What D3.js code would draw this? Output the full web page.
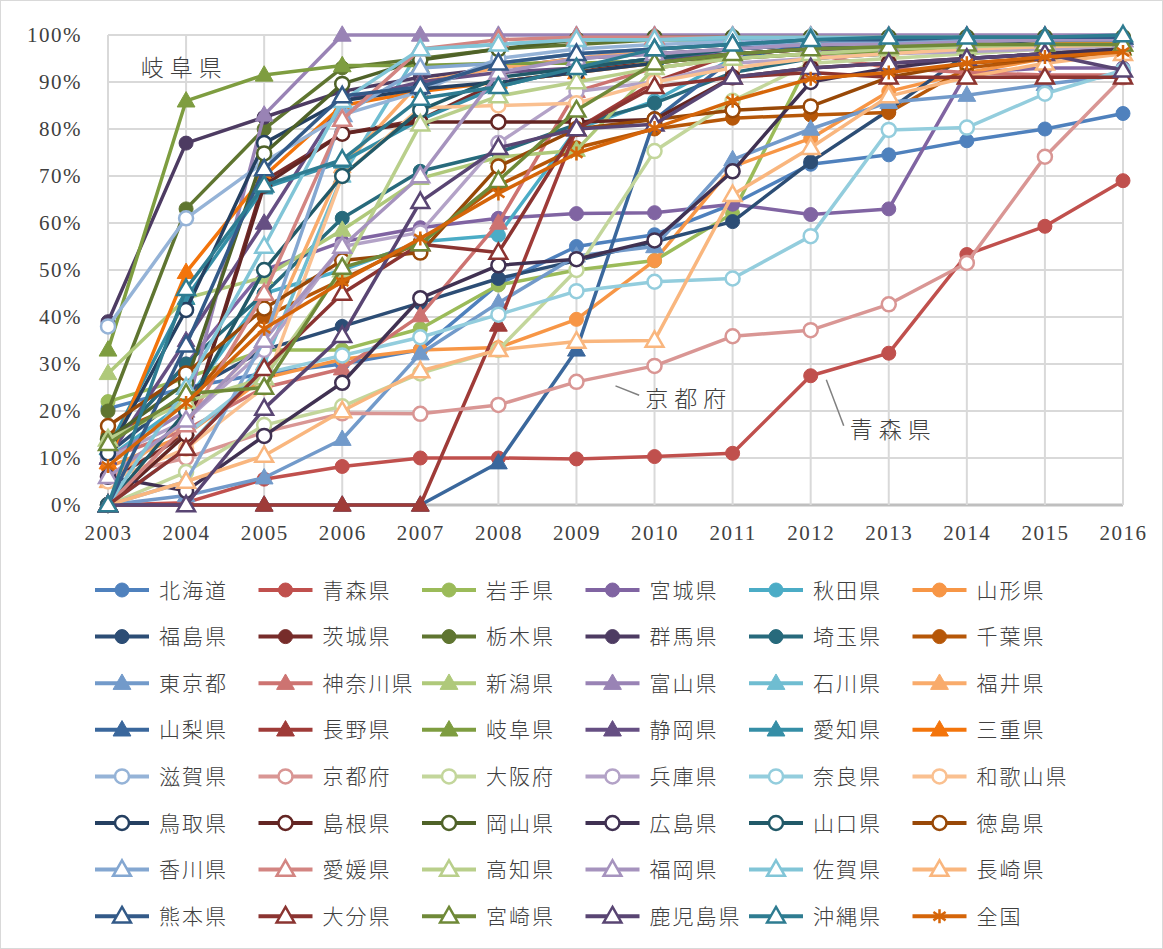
<!DOCTYPE html>
<html>
<head>
<meta charset="utf-8">
<script src="https://cdn.jsdelivr.net/npm/d3@7"></script>
<style>
  body { margin: 0; background: #fff; }
  svg { display: block; }
  .tick-label { font-family: "Liberation Serif", "DejaVu Serif", serif; font-size: 21px; letter-spacing: 1.5px; fill: #404040; }
  .legend-label, .note { font-family: "Noto Sans CJK JP", sans-serif; font-weight: 300; fill: #404040; }
</style>
</head>
<body>
<div id="chart"></div>
<script>
// years on the x axis
var years = [2003, 2004, 2005, 2006, 2007, 2008, 2009, 2010, 2011, 2012, 2013, 2014, 2015, 2016];
var yTicks = [0, 10, 20, 30, 40, 50, 60, 70, 80, 90, 100];

var prefectures = [
  "北海道", "青森県", "岩手県", "宮城県", "秋田県", "山形県",
  "福島県", "茨城県", "栃木県", "群馬県", "埼玉県", "千葉県",
  "東京都", "神奈川県", "新潟県", "富山県", "石川県", "福井県",
  "山梨県", "長野県", "岐阜県", "静岡県", "愛知県", "三重県",
  "滋賀県", "京都府", "大阪府", "兵庫県", "奈良県", "和歌山県",
  "鳥取県", "島根県", "岡山県", "広島県", "山口県", "徳島県",
  "香川県", "愛媛県", "高知県", "福岡県", "佐賀県", "長崎県",
  "熊本県", "大分県", "宮崎県", "鹿児島県", "沖縄県", "全国"
];

// percent per year, one row per prefecture (same order as above)
var rates = [
  [20.5, 25, 28, 30, 33, 47, 55, 57.5, 64, 72.5, 74.5, 77.5, 80, 83.3],
  [0, 0.5, 5.5, 8.2, 10, 10, 9.8, 10.3, 11, 27.5, 32.3, 53.3, 59.3, 69],
  [22, 27, 33, 33, 37.5, 46.8, 50, 52, 62, 95, 96, 97, 98, 98.5],
  [12, 30, 50, 56, 59, 61, 62, 62.2, 64, 61.8, 63, 92, 93, 93],
  [10, 22, 45, 50, 56, 57.4, 80, 86, 95, 98, 99, 99, 99.5, 99.5],
  [8, 15, 27, 31, 33, 33.5, 39.5, 52, 72, 78, 88, 92, 95, 97],
  [11, 24, 33, 38, 43, 48.2, 52, 56, 60.3, 73, 84, 96, 98, 99],
  [5, 15, 69, 79, 82, 90, 92, 95, 97, 98, 98, 99, 99, 99],
  [20, 63, 80, 93, 95, 97, 98, 99, 99, 99, 99.5, 99.5, 99.5, 99.5],
  [39, 77, 82.5, 88, 91, 93, 95, 96, 97, 98, 98, 98.5, 99, 99],
  [12, 30, 45, 61, 71, 75, 81, 85.5, 92, 95, 96, 97, 98, 99],
  [15, 22, 40, 48, 56, 68, 76, 80, 82.3, 83, 83.5, 93, 95, 97],
  [0, 2, 5.8, 14, 32.2, 43, 53, 55, 73.5, 80, 85.7, 87.2, 89.5, 91.5],
  [10, 16, 25, 29, 40.3, 60, 88, 93, 95, 96, 93, 92, 91.5, 91.5],
  [28, 44, 48.5, 58.5, 69.5, 74, 75.5, 93, 95, 96, 97, 98, 98, 98.5],
  [10, 20, 83, 100, 100, 100, 100, 100, 100, 100, 100, 100, 100, 100],
  [0, 12, 30, 70, 97, 98, 99, 99, 99, 99, 99.5, 99.5, 99.5, 99.5],
  [5, 18, 35, 72, 90, 93, 95, 97, 98, 99, 99, 99, 99, 99],
  [0, 0, 0, 0, 0, 9, 33, 82, 95, 98, 99, 99, 99.5, 99.5],
  [0, 0, 0, 0, 0, 38.3, 80, 90, 96, 97, 97, 97.5, 98, 98],
  [33, 86, 91.5, 93.5, 93.5, 94, 94, 94.5, 95, 96, 96.5, 97, 97, 97],
  [10, 35, 60, 86, 90, 92, 93, 95, 96, 97, 97, 98, 98, 98],
  [12, 44, 67.5, 73, 82, 89, 93, 95, 97, 98, 99, 99, 99.5, 99.5],
  [9, 49.5, 70, 85, 88, 90, 92, 94, 96, 97, 98, 98, 98, 98.5],
  [38, 61, 73, 83, 88, 95, 97, 98, 98.5, 99, 99, 99, 99, 99],
  [6, 10, 15.5, 19.5, 19.4, 21.3, 26.2, 29.6, 35.9, 37.2, 42.7, 51.5, 74.1, 91],
  [0, 7, 17, 21, 28, 33, 50, 75.3, 86, 94, 95, 96, 97, 97.5],
  [10, 18, 33, 55, 58, 77, 88, 90, 94, 95, 96, 96.5, 97, 97],
  [0, 15, 28, 31.8, 35.7, 40.5, 45.5, 47.5, 48.2, 57.2, 79.8, 80.3, 87.5, 92.5],
  [5, 12, 25, 70, 84.5, 85, 85.5, 90, 93, 95, 96, 97, 97.5, 98],
  [11, 41.5, 77, 86, 88.5, 90, 92, 94, 96, 97, 98, 98, 99, 99],
  [0, 15, 68, 79, 81.5, 81.5, 81.5, 82, 91, 93, 94, 95, 96, 97],
  [14, 26, 74.8, 89.6, 94.7, 97, 99, 99.5, 99.5, 99.5, 99.5, 99.5, 99.5, 99.5],
  [6, 3, 14.7, 26, 44, 51, 52.3, 56.3, 71, 90, 93, 95, 96, 97],
  [0, 20, 50, 70, 84, 91, 93, 95, 97, 98, 98, 98.5, 99, 99],
  [16.8, 28, 41.8, 52, 53.7, 72, 80, 82, 84, 84.8, 91, 94, 95, 96],
  [0, 5, 35, 83, 93, 94, 96, 97, 98, 98, 98.5, 99, 99, 99],
  [0, 17, 45, 82, 97, 99, 99.5, 99.5, 99.5, 99.5, 99.5, 99.5, 99.5, 99.5],
  [14, 22, 27, 50, 81, 87, 90, 93, 95, 96, 97, 97.5, 98, 98],
  [6, 18, 35, 55, 70, 92, 95, 96, 97, 98, 98, 98.5, 99, 99],
  [0, 25, 55, 86, 97, 98, 99, 99, 99.5, 99.5, 99.5, 99.5, 99.5, 99.5],
  [0, 5, 10.5, 20, 28.5, 33, 34.8, 35, 66, 76, 87, 91, 94, 96],
  [0, 34, 71.5, 87, 89, 94, 96, 97, 98, 99, 99, 99.5, 99.5, 99.5],
  [0, 12, 29, 45, 55.5, 53.7, 80, 89, 91, 92, 91, 91, 91, 91],
  [13, 23.7, 25, 50.5, 55.5, 69, 84, 94, 96, 97, 97.5, 98, 98, 98],
  [0, 0, 20.5, 36, 64.5, 76, 80, 81, 91, 93, 94, 95, 96, 92.5],
  [0, 46, 68, 73.5, 86.5, 89, 93, 97, 98, 99, 99.5, 99.5, 99.5, 100],
  [8.3, 21.7, 37.5, 47.5, 56.7, 66.3, 74.8, 80.2, 86, 90.7, 92, 94, 95.3, 96.4]
];

// labels written on the plot
var notes = [
  { text: "岐阜県", year: 2003.42, value: 93 },
  { text: "京都府", year: 2009.88, value: 22.5, from: [2009.5, 26.2] },
  { text: "青森県", year: 2012.5, value: 16, from: [2012.2, 27.5] }
];

var accents = ["#4F81BD", "#C0504D", "#9BBB59", "#8064A2", "#4BACC6", "#F79646"];
// Excel style luminance variations for series 7+
var shades = [[1, 0], [0.6, 0], [0.8, 0.2], [0.8, 0], [0.6, 0.4], [0.5, 0], [0.7, 0.3], [0.7, 0]];

function seriesColor(i) {
  var c = d3.hsl(accents[i % 6]);
  var s = shades[Math.floor(i / 6)];
  c.l = c.l * s[0] + s[1];
  return c.formatHex();
}

function markerType(i) {
  if (i == 47) return "star";
  var g = Math.floor(i / 6);
  return ["circle", "circle", "triangle", "triangle", "ocircle", "ocircle", "otriangle", "otriangle"][g];
}

var width = 1163, height = 949;
var svg = d3.select("#chart").append("svg")
  .attr("width", width)
  .attr("height", height);

svg.append("rect")
  .attr("x", 0.5).attr("y", 0.5)
  .attr("width", width - 1).attr("height", height - 1)
  .attr("fill", "#fff").attr("stroke", "#d9d9d9");

var xScale = d3.scaleLinear().domain([2003, 2016]).range([108, 1123]);
var yScale = d3.scaleLinear().domain([0, 100]).range([505, 35]);

// grid
var grid = svg.append("g").attr("class", "grid");
grid.selectAll("line.h")
  .data(yTicks)
  .enter().append("line")
  .attr("x1", xScale(2003)).attr("x2", xScale(2016))
  .attr("y1", d => yScale(d)).attr("y2", d => yScale(d))
  .attr("stroke", d => d == 0 ? "#bfbfbf" : "#d9d9d9")
  .attr("stroke-width", d => d == 0 ? 3 : 2);
grid.selectAll("line.v")
  .data(years)
  .enter().append("line")
  .attr("x1", d => xScale(d)).attr("x2", d => xScale(d))
  .attr("y1", yScale(100)).attr("y2", yScale(0))
  .attr("stroke", "#d9d9d9")
  .attr("stroke-width", 2);

// axes labels
var yAxis = d3.axisLeft(yScale).tickValues(yTicks).tickSize(0).tickPadding(0).tickFormat(d => d + "%");
svg.append("g")
  .attr("transform", "translate(82,0)")
  .call(yAxis)
  .call(g => g.select(".domain").remove())
  .selectAll("text").attr("class", "tick-label").attr("font-size", null).attr("font-family", null);

var xAxis = d3.axisBottom(xScale).tickValues(years).tickSize(0).tickPadding(0).tickFormat(d => d);
svg.append("g")
  .attr("transform", "translate(0,525)")
  .call(xAxis)
  .call(g => g.select(".domain").remove())
  .selectAll("text").attr("class", "tick-label").attr("font-size", null).attr("font-family", null);

var triangle = d3.symbol().type(d3.symbolTriangle);

function drawMarker(sel, type, color, size) {
  if (type == "circle" || type == "ocircle") {
    sel.append("circle")
      .attr("r", size)
      .attr("fill", type == "circle" ? color : "#fff")
      .attr("stroke", color)
      .attr("stroke-width", type == "circle" ? 1 : 2.5);
  } else if (type == "triangle" || type == "otriangle") {
    sel.append("path")
      .attr("d", triangle.size(size * size * 2.8)())
      .attr("transform", "translate(0," + (size * 0.15) + ")")
      .attr("fill", type == "triangle" ? color : "#fff")
      .attr("stroke", color)
      .attr("stroke-width", type == "triangle" ? 1 : 2.5);
  } else {
    var r = size;
    var p = "M0," + (-r) + "L0," + r +
      "M" + (-r * 0.87) + "," + (-r * 0.6) + "L" + (r * 0.87) + "," + (r * 0.6) +
      "M" + (-r * 0.87) + "," + (r * 0.6) + "L" + (r * 0.87) + "," + (-r * 0.6);
    sel.append("path").attr("d", p).attr("stroke", color).attr("stroke-width", 2.5).attr("fill", "none");
  }
}

// series
var line = d3.line()
  .x((d, i) => xScale(years[i]))
  .y(d => yScale(d));

var seriesG = svg.append("g").attr("class", "series");
rates.forEach(function(vals, i) {
  var color = seriesColor(i);
  var g = seriesG.append("g");
  g.append("path")
    .attr("d", line(vals))
    .attr("fill", "none")
    .attr("stroke", color)
    .attr("stroke-width", 3.5)
    .attr("stroke-linejoin", "round");
  var type = markerType(i);
  vals.forEach(function(v, j) {
    var m = g.append("g").attr("transform", "translate(" + xScale(years[j]) + "," + yScale(v) + ")");
    drawMarker(m, type, color, 7);
  });
});

// annotations
var noteG = svg.append("g");
notes.forEach(function(n) {
  if (n.from) {
    noteG.append("line")
      .attr("x1", xScale(n.from[0])).attr("y1", yScale(n.from[1]) + 4)
      .attr("x2", xScale(n.year) - 6).attr("y2", yScale(n.value) - 4)
      .attr("stroke", "#808080").attr("stroke-width", 1.5);
  }
  noteG.append("text")
    .attr("class", "note")
    .attr("x", xScale(n.year))
    .attr("y", yScale(n.value))
    .attr("dy", "0.35em")
    .attr("font-size", 23)
    .attr("letter-spacing", 6)
    .text(n.text);
});

// legend
var legendX = 95, legendY = 590, colW = 163.5, rowH = 46.6;
var legend = svg.append("g").attr("class", "legend");
prefectures.forEach(function(name, i) {
  var col = i % 6, row = Math.floor(i / 6);
  var color = seriesColor(i);
  var g = legend.append("g")
    .attr("transform", "translate(" + (legendX + col * colW) + "," + (legendY + row * rowH) + ")");
  g.append("line")
    .attr("x1", 0).attr("x2", 54)
    .attr("stroke", color).attr("stroke-width", 4);
  var m = g.append("g").attr("transform", "translate(27,0)");
  drawMarker(m, markerType(i), color, 7);
  g.append("text")
    .attr("class", "legend-label")
    .attr("x", 64)
    .attr("dy", "0.36em")
    .attr("font-size", 21)
    .attr("letter-spacing", 2)
    .text(name);
});
</script>
</body>
</html>
